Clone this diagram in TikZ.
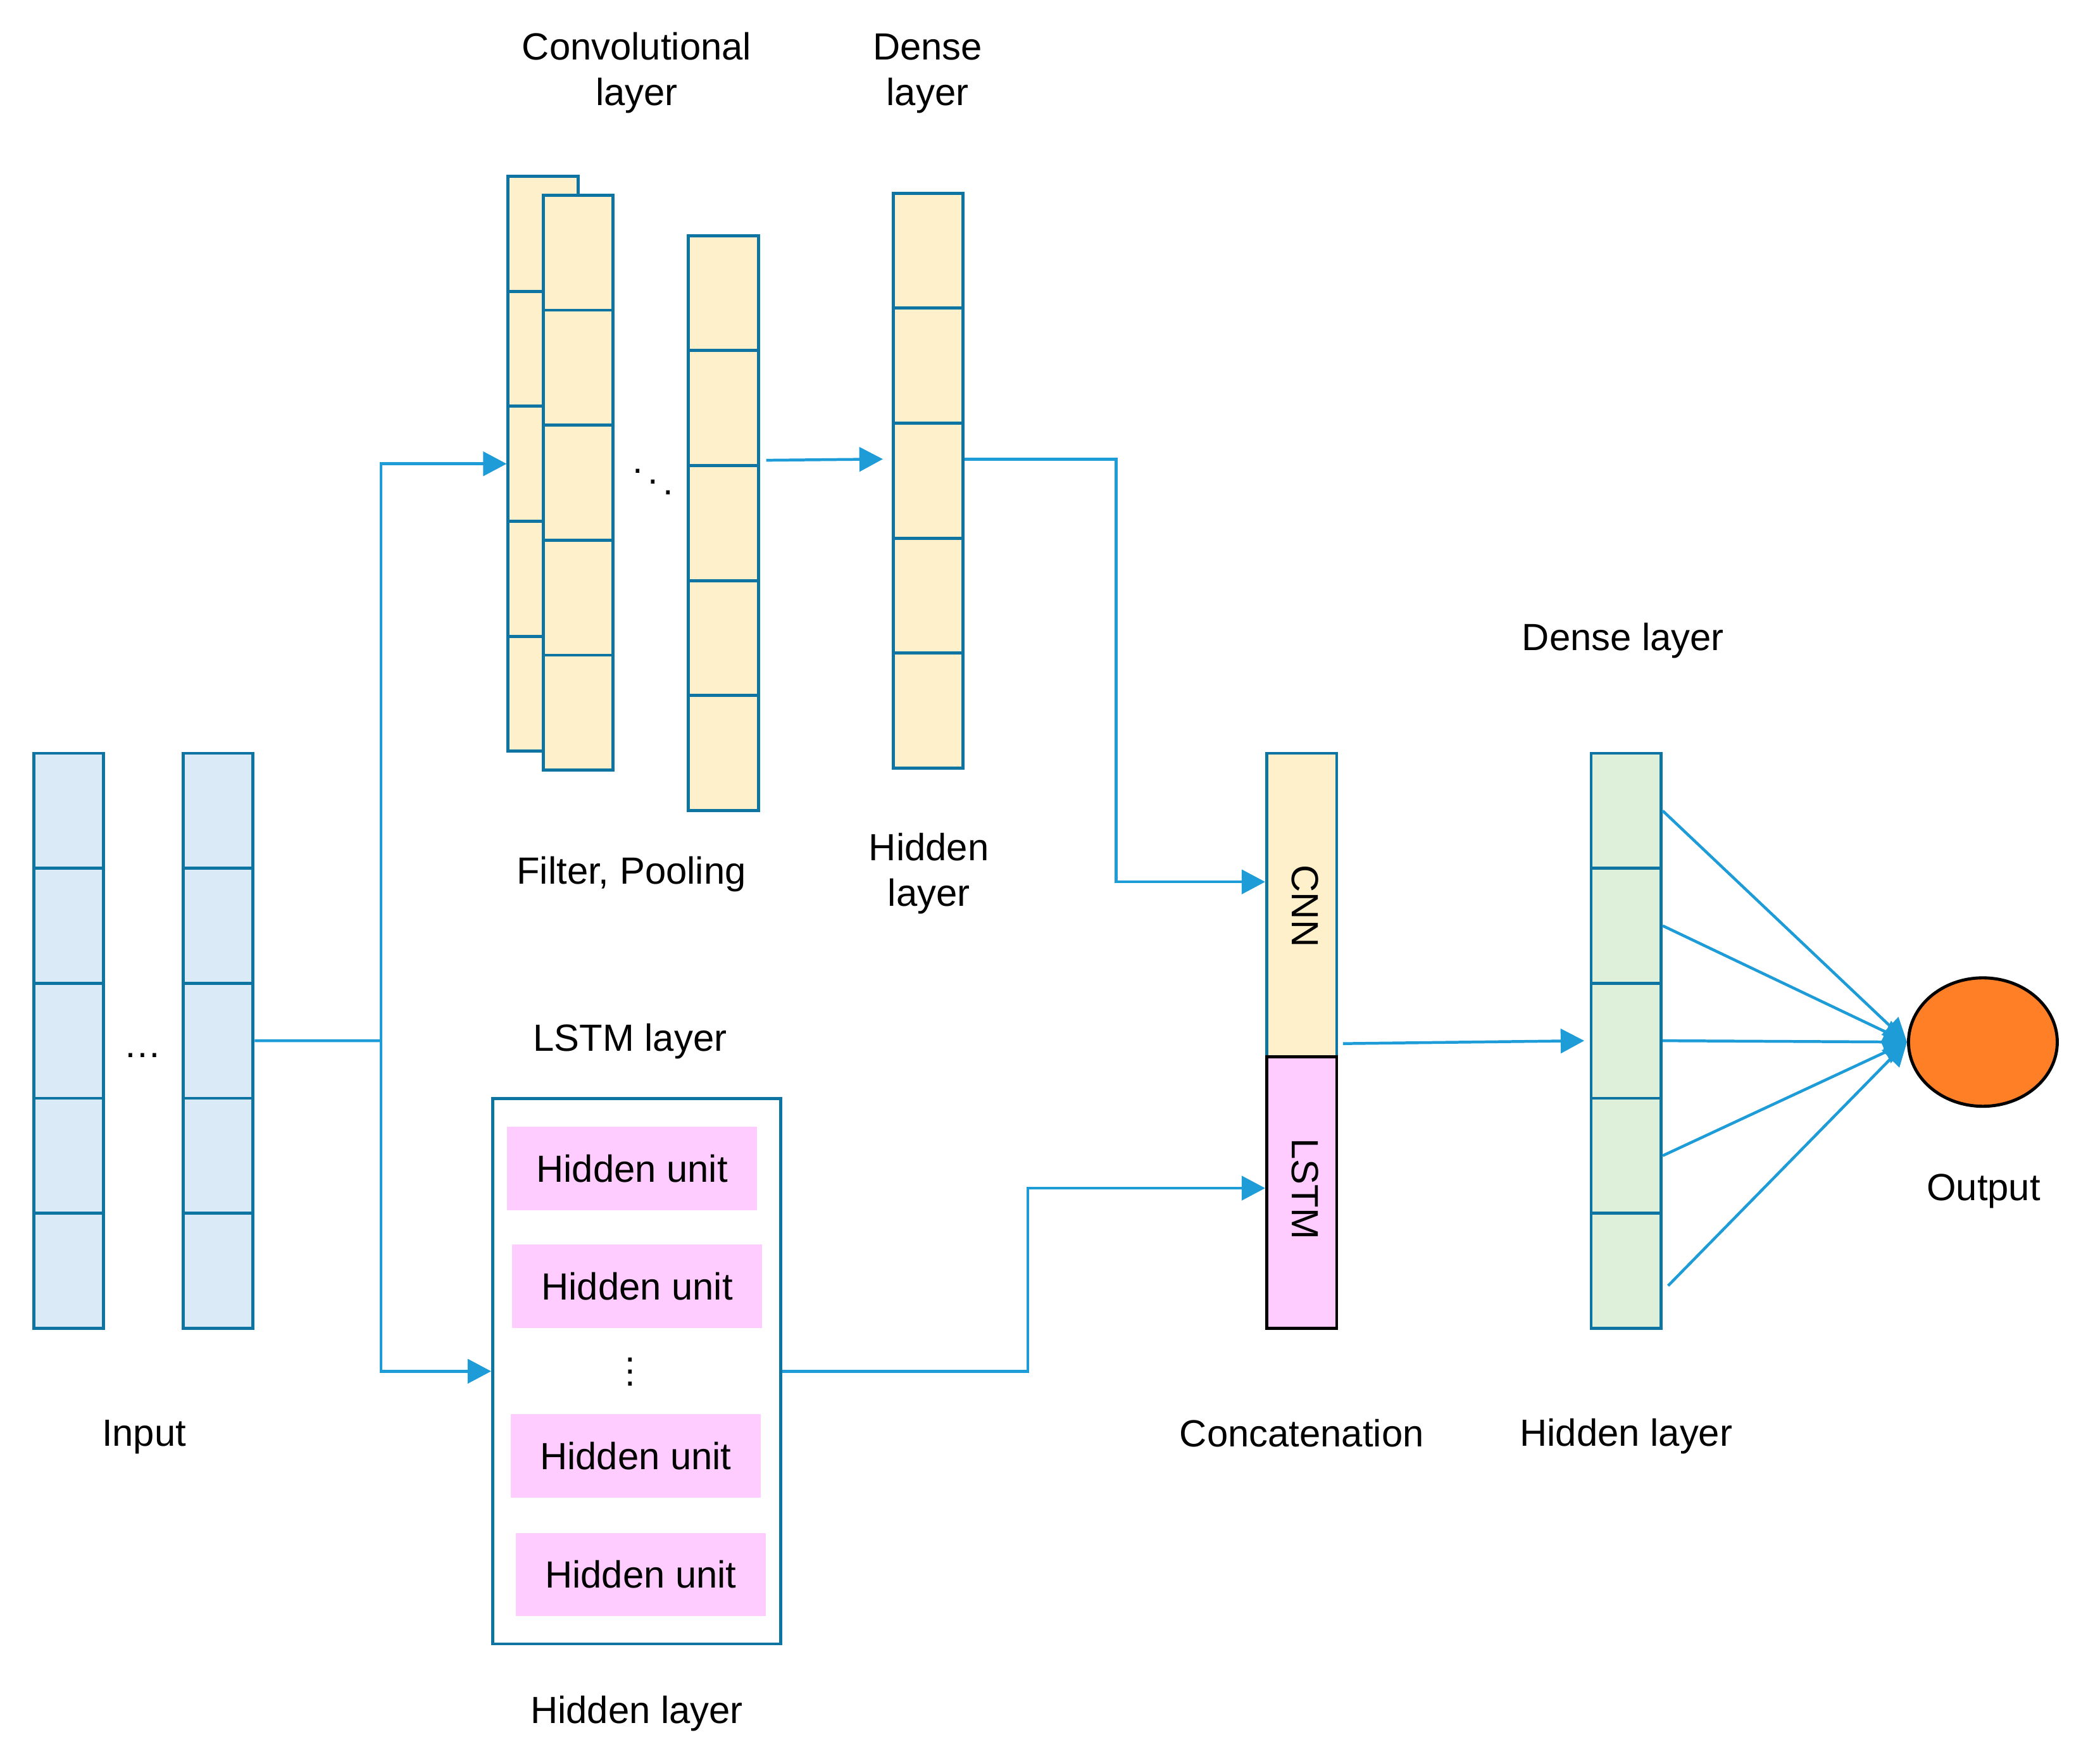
\documentclass[tikz,border=0pt]{standalone}
\usepackage{fontspec}
\setmainfont{Liberation Sans}
\usetikzlibrary{arrows.meta,shapes.geometric}

\definecolor{colblue}{HTML}{0E75A3}
\definecolor{arrblue}{HTML}{1E9CD8}
\definecolor{convfill}{HTML}{FEF0CB}
\definecolor{infill}{HTML}{DAEBF7}
\definecolor{hidfill}{HTML}{DFF0DA}
\definecolor{unitfill}{HTML}{FFCCFF}
\definecolor{outfill}{HTML}{FF7F27}

\newcommand{\vdotsx}{\vbox{\baselineskip=5.1pt\lineskiplimit=-20pt\hbox{.}\hbox{.}\hbox{.}}}
\newcommand{\ddotsx}{.\kern2pt\raisebox{-4.5pt}{.}\kern2pt\raisebox{-9pt}{.}}

\begin{document}
\begin{tikzpicture}[
		x=0.2mm, y=-0.2mm,
		font=\fontsize{16}{19.3}\selectfont,
		cell/.style={draw=colblue, line width=1.3pt, minimum width=10.4mm, minimum height=17.08mm, inner sep=0pt},
		arr/.style={draw=arrblue, line width=1.2pt, -{Triangle[length=3.5mm,width=3.6mm]}},
		lbl/.style={anchor=base, inner sep=0pt, align=center},
		unit/.style={fill=unitfill, minimum width=37.2mm, minimum height=12.4mm, inner sep=0pt}
	]
	\fill[white] (0,0) rectangle (1560,1308);
	\useasboundingbox (0,0) rectangle (1560,1308);

	% columns of cells
	\foreach \i in {1,...,5} {
		\node[cell, fill=infill] (inA\i) at (51,{516.8+85.4*\i}) {};
		\node[cell, fill=infill] (inB\i) at (162,{516.8+85.4*\i}) {};
		\node[cell, fill=convfill] (convA\i) at (403.5,{88.3+85.4*\i}) {};
	}
	\foreach \i in {1,...,5} {
		\node[cell, fill=convfill] (convB\i) at (429.5,{102.3+85.4*\i}) {};
		\node[cell, fill=convfill] (convC\i) at (537.5,{132.3+85.4*\i}) {};
		\node[cell, fill=convfill] (dense\i) at (689.5,{100.8+85.4*\i}) {};
		\node[cell, fill=hidfill] (hid\i) at (1208,{516.8+85.4*\i}) {};
	}

	% concatenation
	\node[cell, fill=convfill, minimum height=45.1mm] (cnn) at (967,672.25) {};
	\node[cell, draw=black, fill=unitfill, minimum height=40.3mm] (lstm) at (967,885.75) {};
	\node[rotate=-90, inner sep=0pt] (cnnlbl) at (969.5,673) {CNN};
	\node[rotate=-90, inner sep=0pt] (lstmtxt) at (969.5,883) {LSTM};

	% LSTM layer
	\node[draw=colblue, line width=1.3pt, minimum width=42.8mm, minimum height=81mm, inner sep=0pt] (lstmbox) at (473,1018.5) {};
	\node[unit] (u1) at (469.5,867.75) {Hidden unit};
	\node[unit] (u2) at (473.25,955.25) {Hidden unit};
	\node[inner sep=0pt] (udots) at (468,1019) {\vdotsx};
	\node[unit] (u3) at (472.25,1081.5) {Hidden unit};
	\node[unit] (u4) at (476,1169.5) {Hidden unit};

	% output
	\node[ellipse, draw=black, fill=outfill, line width=1.3pt, minimum width=22.1mm, minimum height=19.08mm, inner sep=0pt] (out) at (1473,774) {};

	% connectors
	\coordinate (split) at (283,773);
	\draw[draw=arrblue, line width=1.2pt] (inB3.east) -- (split);
	\draw[arr] (split) |- (convA3.west);
	\draw[arr] (split) |- (lstmbox.west);
	\draw[arr] ([xshift=0.9mm,yshift=0.56mm]convC3.north east) -- ([xshift=-1.3mm,yshift=3.2mm]dense3.west);
	\draw[arr] ([yshift=3.2mm]dense3.east) -- ++(22.5mm,0) |- ([yshift=3.45mm]cnn.west);
	\draw[arr] (lstmbox.east) -- ++(36.5mm,0) |- ([yshift=0.65mm]lstm.west);
	\draw[arr] ([xshift=0.7mm,yshift=2.2mm]cnn.south east) -- ([xshift=-0.8mm]hid3.west);
	\foreach \i in {1,...,4}
		\draw[arr] (hid\i.east) -- (out.west);
	\draw[arr] ([xshift=0.8mm,yshift=-2.24mm]hid5.east) -- (out.west);

	% labels
	\node[inner sep=0pt] (convdots) at (485,358) {\ddotsx};
	\node[lbl] (indots) at (106,785.6) {…};
	\node[lbl] (convlbl) at (473,78.5) {Convolutional\\layer};
	\node[lbl] (denselbl) at (689,78.5) {Dense\\layer};
	\node[lbl] (filterlbl) at (469,656.6) {Filter, Pooling};
	\node[lbl] (hidlbl) at (690,673) {Hidden\\layer};
	\node[lbl] (lstmlbl) at (468,780.6) {LSTM layer};
	\node[lbl] (inlbl) at (107,1074) {Input};
	\node[lbl] (unitslbl) at (473,1280) {Hidden layer};
	\node[lbl] (catlbl) at (967,1074.5) {Concatenation};
	\node[lbl] (hidlblB) at (1208,1074) {Hidden layer};
	\node[lbl] (outlbl) at (1473.5,891.6) {Output};
	\node[lbl] (denselblB) at (1205.7,483) {Dense layer};
\end{tikzpicture}
\end{document}
